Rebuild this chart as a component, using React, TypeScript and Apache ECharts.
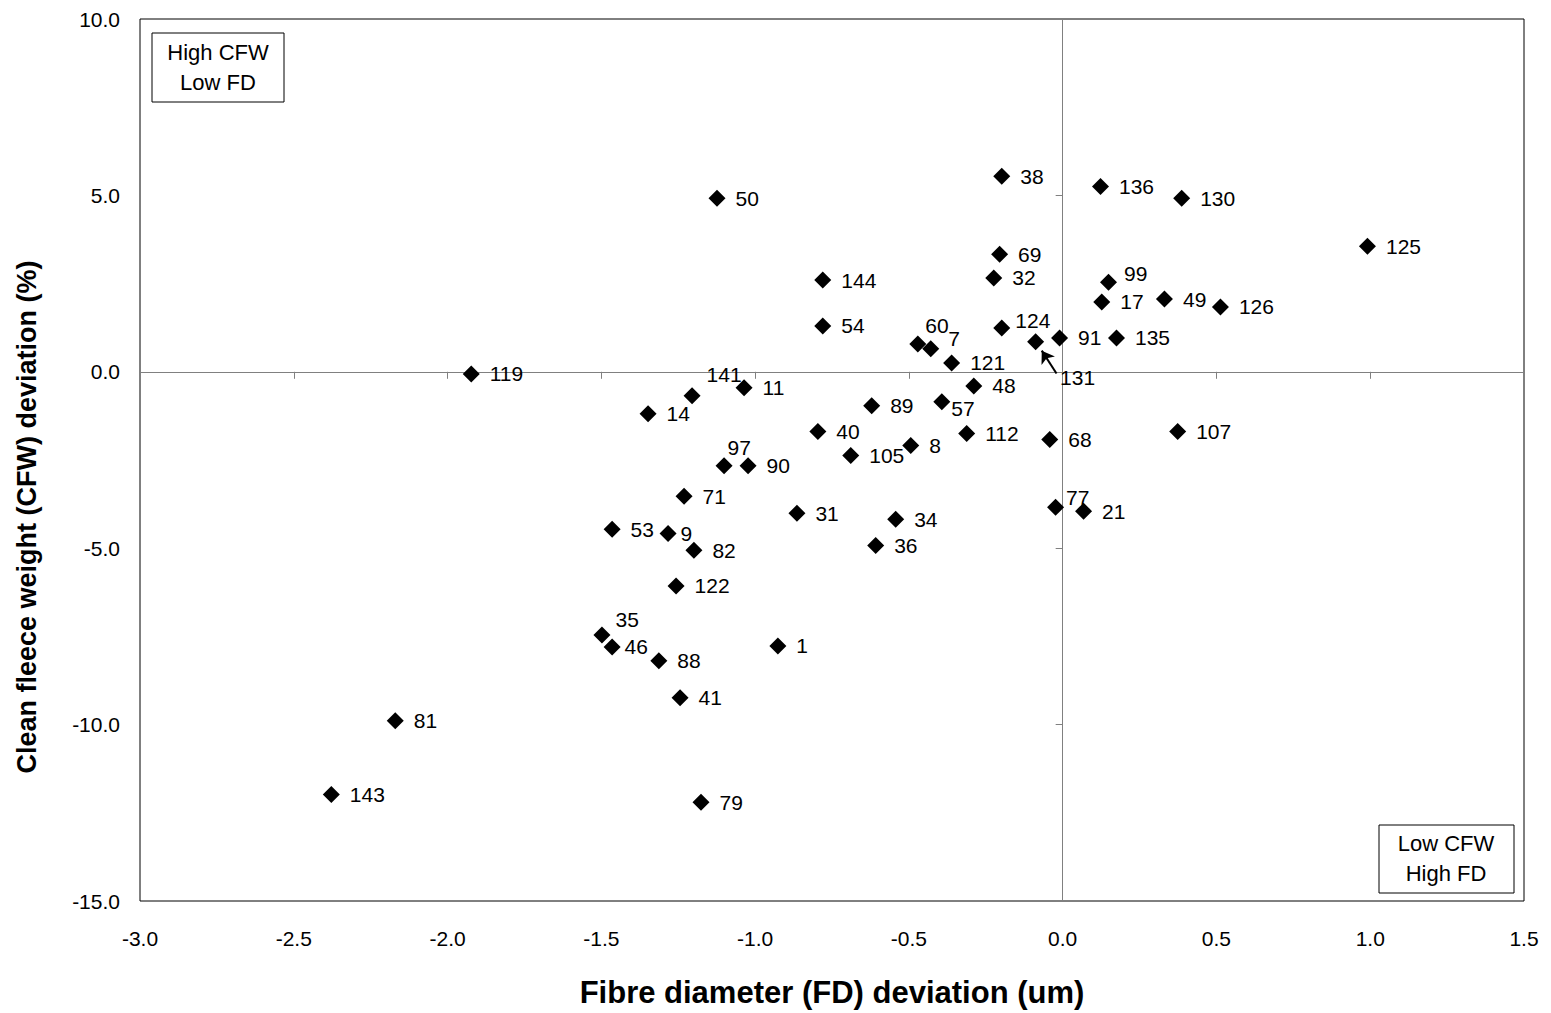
import React, { useEffect, useRef } from "react";
import * as echarts from "echarts";

// Sheep / animal identifiers
const animalIds = [
  "50", "38", "136", "130", "125", "69", "144", "32", "99", "17", "49", "126", "54",
  "124", "60", "7", "131", "91", "135", "121", "119", "141", "11", "48", "14", "57",
  "89", "40", "112", "107", "68", "8", "105", "97", "90", "71", "77", "21", "31", "34",
  "53", "9", "82", "36", "122", "35", "46", "1", "88", "41", "81", "143", "79",
];
// Fibre diameter deviation (um)
const fdDeviation = [
  -1.124, -0.198, 0.123, 0.387, 0.991, -0.205, -0.78, -0.224, 0.149, 0.127, 0.331, 0.513, -0.78,
  -0.198, -0.471, -0.429, -0.088, -0.01, 0.175, -0.361, -1.923, -1.205, -1.036, -0.289, -1.348, -0.393,
  -0.621, -0.796, -0.312, 0.374, -0.042, -0.494, -0.689, -1.101, -1.023, -1.231, -0.023, 0.068, -0.864, -0.543,
  -1.465, -1.283, -1.199, -0.608, -1.257, -1.498, -1.465, -0.926, -1.313, -1.244, -2.17, -2.378, -1.176,
];
// Clean fleece weight deviation (%)
const cfwDeviation = [
  4.92, 5.54, 5.25, 4.92, 3.56, 3.33, 2.6, 2.66, 2.54, 1.98, 2.06, 1.84, 1.3,
  1.24, 0.79, 0.65, 0.85, 0.96, 0.96, 0.25, -0.06, -0.68, -0.45, -0.4, -1.19, -0.85,
  -0.96, -1.69, -1.75, -1.69, -1.92, -2.09, -2.37, -2.66, -2.66, -3.53, -3.84, -3.95, -4.01, -4.18,
  -4.46, -4.58, -5.06, -4.92, -6.07, -7.46, -7.8, -7.77, -8.19, -9.24, -9.89, -11.98, -12.2,
];

const xTicks = { min: -3.0, max: 1.5, step: 0.5 };
const yTicks = { min: -15.0, max: 10.0, step: 5.0 };

const xTitle = "Fibre diameter (FD) deviation (um)";
const yTitle = "Clean fleece weight (CFW) deviation (%)";
const quadrantTopLeft = "High CFW\nLow FD";
const quadrantBottomRight = "Low CFW\nHigh FD";

// label placement tweaks (pixel offsets relative to default right-side label)
const labelOffsets: Record<string, [number, number]> = {
  "60": [-11, -18],
  "7": [-1, -10],
  "124": [-5, -8],
  "141": [-4, -21],
  "97": [-15, -18],
  "57": [-9, 7],
  "9": [-6, 0],
  "77": [-8, -10],
  "35": [-5, -15],
  "46": [-6, 0],
  "99": [-3, -9],
  "131": [6, 36],
};

const FONT = "'Liberation Sans', Arial, sans-serif";

export default function App() {
  const ref = useRef<HTMLDivElement>(null);
  useEffect(() => {
    if (!ref.current) return;
    const chart = echarts.init(ref.current, undefined, { renderer: "svg" });

    const data = animalIds.map((id, i) => {
      const item: any = { name: id, value: [fdDeviation[i], cfwDeviation[i]] };
      if (labelOffsets[id]) item.label = { offset: labelOffsets[id] };
      return item;
    });

    const i131 = animalIds.indexOf("131");
    const p131 = [fdDeviation[i131], cfwDeviation[i131]];

    const option: any = {
      animation: false,
      backgroundColor: "#ffffff",
      textStyle: { fontFamily: FONT },
      grid: {
        left: 140,
        right: 27,
        top: 19,
        bottom: 110,
        show: true,
        borderColor: "#000000",
        borderWidth: 1,
        backgroundColor: "transparent",
      },
      xAxis: [
        {
          type: "value",
          min: xTicks.min,
          max: xTicks.max,
          interval: xTicks.step,
          position: "bottom",
          axisLine: { show: false, onZero: false },
          axisTick: { show: false },
          splitLine: { show: false },
          axisLabel: {
            color: "#000",
            fontSize: 21,
            fontFamily: FONT,
            margin: 27,
            formatter: (v: number) => v.toFixed(1),
          },
          name: xTitle,
          nameLocation: "middle",
          nameGap: 76,
          nameTextStyle: { fontSize: 31, fontWeight: "bold", color: "#000", fontFamily: FONT },
        },
        {
          type: "value",
          min: xTicks.min,
          max: xTicks.max,
          interval: xTicks.step,
          position: "bottom",
          axisLine: { show: true, onZero: true, lineStyle: { color: "#808080", width: 1 } },
          axisTick: { show: true, inside: false, length: 7, lineStyle: { color: "#808080" } },
          axisLabel: { show: false },
          splitLine: { show: false },
        },
      ],
      yAxis: [
        {
          type: "value",
          min: yTicks.min,
          max: yTicks.max,
          interval: yTicks.step,
          position: "left",
          axisLine: { show: false, onZero: false },
          axisTick: { show: false },
          splitLine: { show: false },
          axisLabel: {
            color: "#000",
            fontSize: 21,
            fontFamily: FONT,
            margin: 20,
            formatter: (v: number) => v.toFixed(1),
          },
        },
        {
          type: "value",
          min: yTicks.min,
          max: yTicks.max,
          interval: yTicks.step,
          position: "left",
          axisLine: { show: true, onZero: true, lineStyle: { color: "#808080", width: 1 } },
          axisTick: { show: true, inside: false, length: 7, lineStyle: { color: "#808080" } },
          axisLabel: { show: false },
          splitLine: { show: false },
        },
      ],
      series: [
        {
          type: "scatter",
          xAxisIndex: 0,
          yAxisIndex: 0,
          symbol: "diamond",
          symbolSize: 17,
          itemStyle: { color: "#000000", opacity: 1 },
          z: 3,
          data,
          label: {
            show: true,
            position: "right",
            distance: 10,
            formatter: "{b}",
            color: "#000",
            fontSize: 21,
            fontFamily: FONT,
          },
          markLine: {
            silent: true,
            animation: false,
            z: 5,
            symbol: ["none", "arrow"],
            symbolSize: 12,
            label: { show: false },
            lineStyle: { color: "#000", width: 2, type: "solid", opacity: 1 },
            data: [
              [
                { coord: [p131[0] + 0.068, p131[1] - 0.9] },
                { coord: [p131[0] + 0.02, p131[1] - 0.25] },
              ],
            ],
          },
        },
      ],
      graphic: [
        {
          type: "text",
          x: 27,
          y: 517,
          rotation: Math.PI / 2,
          style: {
            text: yTitle,
            fontSize: 27,
            fontWeight: "bold",
            fontFamily: FONT,
            fill: "#000",
            textAlign: "center",
            textVerticalAlign: "middle",
          },
        },
        {
          type: "rect",
          shape: { x: 152, y: 33, width: 132, height: 69 },
          style: { fill: "#fff", stroke: "#000", lineWidth: 1 },
        },
        {
          type: "text",
          x: 218,
          y: 67,
          style: {
            text: quadrantTopLeft,
            fontSize: 22,
            fontFamily: FONT,
            fill: "#000",
            textAlign: "center",
            textVerticalAlign: "middle",
            lineHeight: 30,
          },
        },
        {
          type: "rect",
          shape: { x: 1379, y: 825, width: 135, height: 68 },
          style: { fill: "#fff", stroke: "#000", lineWidth: 1 },
        },
        {
          type: "text",
          x: 1446,
          y: 858,
          style: {
            text: quadrantBottomRight,
            fontSize: 22,
            fontFamily: FONT,
            fill: "#000",
            textAlign: "center",
            textVerticalAlign: "middle",
            lineHeight: 30,
          },
        },
      ],
    };
    chart.setOption(option);
    return () => chart.dispose();
  }, []);

  return (
    <div
      ref={ref}
      style={{ position: "fixed", left: 0, top: 0, width: 1551, height: 1013, background: "#fff" }}
    />
  );
}
